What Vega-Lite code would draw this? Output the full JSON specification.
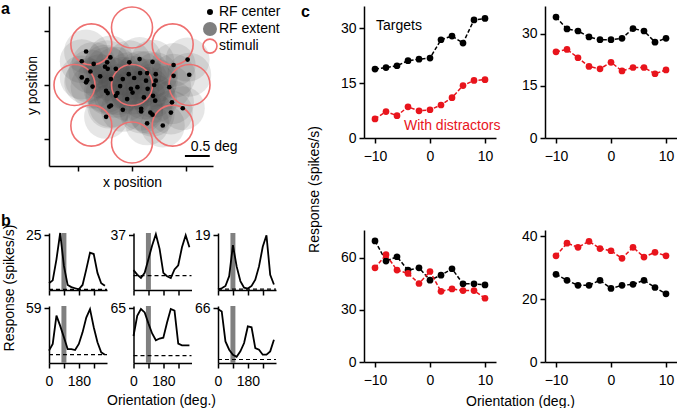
{
"$schema":"https://vega.github.io/schema/vega-lite/v6.json",
"padding":{"left":0,"top":0,"right":0,"bottom":0},
"background":"white",
"config":{"font":"Liberation Sans","view":{"stroke":null},
 "axis":{"grid":false,"domainColor":"#000","tickColor":"#000","labelColor":"#000","titleColor":"#000","domainWidth":1.5,"tickWidth":1.5,"tickSize":5,"labelFontSize":14,"titleFontSize":14,"titleFontWeight":"normal","labelFont":"Liberation Sans","titleFont":"Liberation Sans","labelFlush":false,"labelOverlap":false},
 "axisX":{"labelPadding":6},"axisY":{"labelPadding":3},
 "text":{"font":"Liberation Sans","fontSize":14}},
"datasets":{
"rf":[{"x":0.65,"y":2.12},{"x":0.57,"y":1.94},{"x":0.79,"y":1.89},{"x":1.04,"y":1.92},{"x":1.10,"y":2.01},{"x":1.00,"y":1.84},{"x":0.91,"y":1.66},{"x":0.73,"y":1.75},{"x":0.57,"y":1.64},{"x":0.67,"y":1.59},{"x":0.65,"y":1.55},{"x":0.77,"y":1.47},{"x":1.11,"y":1.61},{"x":1.05,"y":1.80},{"x":1.20,"y":1.80},{"x":1.33,"y":1.61},{"x":1.45,"y":1.92},{"x":1.64,"y":1.98},{"x":1.88,"y":1.93},{"x":1.65,"y":1.72},{"x":1.78,"y":1.72},{"x":1.94,"y":1.70},{"x":1.44,"y":1.70},{"x":1.54,"y":1.63},{"x":1.76,"y":1.58},{"x":1.28,"y":1.48},{"x":1.23,"y":1.35},{"x":1.20,"y":1.30},{"x":1.02,"y":1.39},{"x":1.05,"y":1.35},{"x":1.41,"y":1.24},{"x":1.48,"y":1.43},{"x":1.51,"y":1.36},{"x":1.60,"y":1.46},{"x":1.79,"y":1.43},{"x":2.27,"y":1.87},{"x":2.27,"y":1.67},{"x":2.53,"y":1.97},{"x":2.56,"y":1.69},{"x":1.94,"y":1.58},{"x":1.89,"y":1.30},{"x":1.93,"y":1.21},{"x":2.19,"y":1.46},{"x":2.24,"y":1.18},{"x":2.44,"y":1.07},{"x":2.22,"y":0.99},{"x":1.67,"y":1.06},{"x":1.67,"y":1.01},{"x":1.84,"y":0.99},{"x":1.88,"y":0.95},{"x":1.78,"y":0.79},{"x":2.07,"y":0.75},{"x":1.33,"y":1.04},{"x":1.11,"y":1.12},{"x":1.08,"y":1.10},{"x":1.02,"y":0.91},{"x":1.91,"y":1.50},{"x":1.72,"y":1.27}],
"stim":[{"x":1.5,"y":1.5},{"x":1.5,"y":2.565},{"x":2.253,"y":2.253},{"x":2.565,"y":1.5},{"x":2.253,"y":0.747},{"x":1.5,"y":0.435},{"x":0.747,"y":0.747},{"x":0.435,"y":1.5},{"x":0.747,"y":2.253}],
"aleg":[{"kind":"center","x":2.944,"y":2.85,"label":"RF center"},{"kind":"extent","x":2.944,"y":2.537,"label":"RF extent"},{"kind":"stimuli","x":2.944,"y":2.22,"label":"stimuli"}],
"abar":[{"x":2.48,"x2":2.94,"y":0.185}],
"abartext":[{"x":2.59,"y":0.278,"label":"0.5 deg"}],
"panlab":[{"panel":"a","x":-0.926,"y":2.815},{"panel":"b","ori":-289.7,"rate":29.19},{"panel":"c","ori":-23.45,"rate":33.1}],
"cells":[{"cell":1,"rate":0.3,"ori":75,"ori2":105},{"cell":2,"rate":9.7,"ori":75,"ori2":105},{"cell":3,"rate":0.3,"ori":75,"ori2":105},{"cell":4,"rate":9,"ori":75,"ori2":105},{"cell":5,"rate":8.7,"ori":75,"ori2":105},{"cell":6,"rate":4.2,"ori":75,"ori2":105}],
"tuning":[
{"cell":1,"ori":0,"rate":3.1},{"cell":1,"ori":22.5,"rate":4.4},{"cell":1,"ori":45,"rate":14},{"cell":1,"ori":67.5,"rate":26},{"cell":1,"ori":90,"rate":11},{"cell":1,"ori":112.5,"rate":2.3},{"cell":1,"ori":135,"rate":1.3},{"cell":1,"ori":157.5,"rate":0.8},{"cell":1,"ori":180,"rate":0.3},{"cell":1,"ori":202.5,"rate":2.3},{"cell":1,"ori":225,"rate":9.4},{"cell":1,"ori":247.5,"rate":17},{"cell":1,"ori":270,"rate":16.4},{"cell":1,"ori":292.5,"rate":7.8},{"cell":1,"ori":315,"rate":3.1},{"cell":1,"ori":337.5,"rate":1.9},
{"cell":2,"ori":0,"rate":13.4},{"cell":2,"ori":22.5,"rate":10.4},{"cell":2,"ori":45,"rate":8.1},{"cell":2,"ori":67.5,"rate":11.6},{"cell":2,"ori":90,"rate":20.8},{"cell":2,"ori":112.5,"rate":30},{"cell":2,"ori":135,"rate":37.7},{"cell":2,"ori":157.5,"rate":27.8},{"cell":2,"ori":180,"rate":11.6},{"cell":2,"ori":202.5,"rate":9.3},{"cell":2,"ori":225,"rate":8.1},{"cell":2,"ori":247.5,"rate":13.9},{"cell":2,"ori":270,"rate":16.7},{"cell":2,"ori":292.5,"rate":28.9},{"cell":2,"ori":315,"rate":37},{"cell":2,"ori":337.5,"rate":28.9},
{"cell":3,"ori":0,"rate":0.2},{"cell":3,"ori":22.5,"rate":0.6},{"cell":3,"ori":45,"rate":1.4},{"cell":3,"ori":67.5,"rate":4.8},{"cell":3,"ori":90,"rate":15.6},{"cell":3,"ori":112.5,"rate":8.2},{"cell":3,"ori":135,"rate":3.1},{"cell":3,"ori":157.5,"rate":0.8},{"cell":3,"ori":180,"rate":0.5},{"cell":3,"ori":202.5,"rate":1.4},{"cell":3,"ori":225,"rate":3.6},{"cell":3,"ori":247.5,"rate":8.2},{"cell":3,"ori":270,"rate":15},{"cell":3,"ori":292.5,"rate":19},{"cell":3,"ori":315,"rate":5.3},{"cell":3,"ori":337.5,"rate":1.9},
{"cell":4,"ori":0,"rate":13.3},{"cell":4,"ori":22.5,"rate":20.5},{"cell":4,"ori":45,"rate":51},{"cell":4,"ori":67.5,"rate":40},{"cell":4,"ori":90,"rate":27.7},{"cell":4,"ori":112.5,"rate":15},{"cell":4,"ori":135,"rate":15},{"cell":4,"ori":157.5,"rate":14},{"cell":4,"ori":180,"rate":20.5},{"cell":4,"ori":202.5,"rate":33},{"cell":4,"ori":225,"rate":49},{"cell":4,"ori":247.5,"rate":58},{"cell":4,"ori":270,"rate":38.5},{"cell":4,"ori":292.5,"rate":22.3},{"cell":4,"ori":315,"rate":11.5},{"cell":4,"ori":337.5,"rate":9},
{"cell":5,"ori":0,"rate":32},{"cell":5,"ori":22.5,"rate":56},{"cell":5,"ori":45,"rate":64},{"cell":5,"ori":67.5,"rate":60},{"cell":5,"ori":90,"rate":47},{"cell":5,"ori":112.5,"rate":35},{"cell":5,"ori":135,"rate":27},{"cell":5,"ori":157.5,"rate":29},{"cell":5,"ori":180,"rate":30},{"cell":5,"ori":202.5,"rate":48},{"cell":5,"ori":225,"rate":64},{"cell":5,"ori":247.5,"rate":62},{"cell":5,"ori":270,"rate":23},{"cell":5,"ori":292.5,"rate":21},{"cell":5,"ori":315,"rate":21},{"cell":5,"ori":337.5,"rate":21},
{"cell":6,"ori":0,"rate":65},{"cell":6,"ori":22.5,"rate":62},{"cell":6,"ori":45,"rate":26},{"cell":6,"ori":67.5,"rate":16},{"cell":6,"ori":90,"rate":10},{"cell":6,"ori":112.5,"rate":7.5},{"cell":6,"ori":135,"rate":14},{"cell":6,"ori":157.5,"rate":24},{"cell":6,"ori":180,"rate":44},{"cell":6,"ori":202.5,"rate":43},{"cell":6,"ori":225,"rate":18},{"cell":6,"ori":247.5,"rate":16},{"cell":6,"ori":270,"rate":10},{"cell":6,"ori":292.5,"rate":10},{"cell":6,"ori":315,"rate":14},{"cell":6,"ori":337.5,"rate":28}],
"resp":[
{"panel":1,"cond":"Targets","ori":-10,"rate":18.8},{"panel":1,"cond":"Targets","ori":-8,"rate":19.2},{"panel":1,"cond":"Targets","ori":-6,"rate":19.7},{"panel":1,"cond":"Targets","ori":-4,"rate":21.1},{"panel":1,"cond":"Targets","ori":-2,"rate":21.5},{"panel":1,"cond":"Targets","ori":0,"rate":21.8},{"panel":1,"cond":"Targets","ori":2,"rate":26.8},{"panel":1,"cond":"Targets","ori":4,"rate":27.8},{"panel":1,"cond":"Targets","ori":6,"rate":25.9},{"panel":1,"cond":"Targets","ori":8,"rate":32.2},{"panel":1,"cond":"Targets","ori":10,"rate":32.6},
{"panel":1,"cond":"With distractors","ori":-10,"rate":5.2},{"panel":1,"cond":"With distractors","ori":-8,"rate":7.2},{"panel":1,"cond":"With distractors","ori":-6,"rate":6.1},{"panel":1,"cond":"With distractors","ori":-4,"rate":8.5},{"panel":1,"cond":"With distractors","ori":-2,"rate":7.4},{"panel":1,"cond":"With distractors","ori":0,"rate":7.7},{"panel":1,"cond":"With distractors","ori":2,"rate":9.0},{"panel":1,"cond":"With distractors","ori":4,"rate":11.0},{"panel":1,"cond":"With distractors","ori":6,"rate":14.3},{"panel":1,"cond":"With distractors","ori":8,"rate":15.7},{"panel":1,"cond":"With distractors","ori":10,"rate":15.9},
{"panel":2,"cond":"Targets","ori":-10,"rate":34.8},{"panel":2,"cond":"Targets","ori":-8,"rate":31.4},{"panel":2,"cond":"Targets","ori":-6,"rate":30.8},{"panel":2,"cond":"Targets","ori":-4,"rate":29.1},{"panel":2,"cond":"Targets","ori":-2,"rate":28.3},{"panel":2,"cond":"Targets","ori":0,"rate":28.3},{"panel":2,"cond":"Targets","ori":2,"rate":28.7},{"panel":2,"cond":"Targets","ori":4,"rate":31.5},{"panel":2,"cond":"Targets","ori":6,"rate":30.8},{"panel":2,"cond":"Targets","ori":8,"rate":27.6},{"panel":2,"cond":"Targets","ori":10,"rate":28.7},
{"panel":2,"cond":"With distractors","ori":-10,"rate":24.8},{"panel":2,"cond":"With distractors","ori":-8,"rate":25.5},{"panel":2,"cond":"With distractors","ori":-6,"rate":23.1},{"panel":2,"cond":"With distractors","ori":-4,"rate":20.6},{"panel":2,"cond":"With distractors","ori":-2,"rate":19.9},{"panel":2,"cond":"With distractors","ori":0,"rate":21.8},{"panel":2,"cond":"With distractors","ori":2,"rate":19.3},{"panel":2,"cond":"With distractors","ori":4,"rate":20.3},{"panel":2,"cond":"With distractors","ori":6,"rate":20.3},{"panel":2,"cond":"With distractors","ori":8,"rate":18.5},{"panel":2,"cond":"With distractors","ori":10,"rate":19.6},
{"panel":3,"cond":"Targets","ori":-10,"rate":69.7},{"panel":3,"cond":"Targets","ori":-8,"rate":58.1},{"panel":3,"cond":"Targets","ori":-6,"rate":60.6},{"panel":3,"cond":"Targets","ori":-4,"rate":52.9},{"panel":3,"cond":"Targets","ori":-2,"rate":54.2},{"panel":3,"cond":"Targets","ori":0,"rate":47.1},{"panel":3,"cond":"Targets","ori":2,"rate":50.0},{"panel":3,"cond":"Targets","ori":4,"rate":53.7},{"panel":3,"cond":"Targets","ori":6,"rate":45.0},{"panel":3,"cond":"Targets","ori":8,"rate":45.0},{"panel":3,"cond":"Targets","ori":10,"rate":44.4},
{"panel":3,"cond":"With distractors","ori":-10,"rate":54.2},{"panel":3,"cond":"With distractors","ori":-8,"rate":61.8},{"panel":3,"cond":"With distractors","ori":-6,"rate":52.9},{"panel":3,"cond":"With distractors","ori":-4,"rate":51.0},{"panel":3,"cond":"With distractors","ori":-2,"rate":45.2},{"panel":3,"cond":"With distractors","ori":0,"rate":52.1},{"panel":3,"cond":"With distractors","ori":2,"rate":40.7},{"panel":3,"cond":"With distractors","ori":4,"rate":42.1},{"panel":3,"cond":"With distractors","ori":6,"rate":41.1},{"panel":3,"cond":"With distractors","ori":8,"rate":41.1},{"panel":3,"cond":"With distractors","ori":10,"rate":36.7},
{"panel":4,"cond":"Targets","ori":-10,"rate":27.9},{"panel":4,"cond":"Targets","ori":-8,"rate":26.0},{"panel":4,"cond":"Targets","ori":-6,"rate":24.4},{"panel":4,"cond":"Targets","ori":-4,"rate":24.4},{"panel":4,"cond":"Targets","ori":-2,"rate":26.0},{"panel":4,"cond":"Targets","ori":0,"rate":23.4},{"panel":4,"cond":"Targets","ori":2,"rate":24.4},{"panel":4,"cond":"Targets","ori":4,"rate":24.7},{"panel":4,"cond":"Targets","ori":6,"rate":26.0},{"panel":4,"cond":"Targets","ori":8,"rate":23.7},{"panel":4,"cond":"Targets","ori":10,"rate":21.7},
{"panel":4,"cond":"With distractors","ori":-10,"rate":33.8},{"panel":4,"cond":"With distractors","ori":-8,"rate":37.8},{"panel":4,"cond":"With distractors","ori":-6,"rate":36.5},{"panel":4,"cond":"With distractors","ori":-4,"rate":38.4},{"panel":4,"cond":"With distractors","ori":-2,"rate":36.1},{"panel":4,"cond":"With distractors","ori":0,"rate":35.4},{"panel":4,"cond":"With distractors","ori":2,"rate":33.0},{"panel":4,"cond":"With distractors","ori":4,"rate":36.5},{"panel":4,"cond":"With distractors","ori":6,"rate":33.4},{"panel":4,"cond":"With distractors","ori":8,"rate":34.9},{"panel":4,"cond":"With distractors","ori":10,"rate":33.8}],
"ctext":[{"label":"Targets","ori":-9.82,"rate":30.5,"cond":"Targets"},{"label":"With distractors","ori":-4.73,"rate":3.27,"cond":"With distractors"}]
},
"bounds":"flush",
"spacing":315,
"hconcat":[
{"bounds":"flush","spacing":67,"vconcat":[
 {"width":164,"height":160,
  "encoding":{"x":{"field":"x","type":"quantitative","scale":{"domain":[-0.037,3.0],"nice":false,"zero":false},"axis":{"values":[0.5,1.5,2.5],"labels":false,"title":"x position","titleX":83,"titleY":20,"titleBaseline":"alphabetic","titleAlign":"center"}},
    "y":{"field":"y","type":"quantitative","scale":{"domain":[0,2.963],"nice":false,"zero":false},"axis":{"values":[0.5,1.5,2.5],"labels":false,"title":"y position","titleX":-17,"titleY":79,"titleAngle":270,"titleBaseline":"middle","titleAlign":"center"}}},
  "layer":[
  {"data":{"name":"rf"},"mark":{"type":"circle","size":1936,"color":"#4d4d4d","opacity":0.14}},
  {"data":{"name":"stim"},"mark":{"type":"point","shape":"circle","filled":false,"size":1681,"stroke":"#ee7070","strokeWidth":1.6,"opacity":1}},
  {"data":{"name":"rf"},"mark":{"type":"circle","size":22,"color":"#000","opacity":1}},
  {"data":{"name":"aleg"},"transform":[{"filter":"datum.kind=='center'"}],"mark":{"type":"circle","size":36,"color":"#000","opacity":1}},
  {"data":{"name":"aleg"},"transform":[{"filter":"datum.kind=='extent'"}],"mark":{"type":"circle","size":196,"color":"#7f7f7f","opacity":1}},
  {"data":{"name":"aleg"},"transform":[{"filter":"datum.kind=='stimuli'"}],"mark":{"type":"point","shape":"circle","filled":false,"size":196,"stroke":"#ee7070","strokeWidth":1.6,"opacity":1}},
  {"data":{"name":"aleg"},"mark":{"type":"text","align":"left","baseline":"middle","dx":9,"fontSize":14,"color":"#000"},"encoding":{"text":{"field":"label"}}},
  {"data":{"name":"abar"},"mark":{"type":"rule","color":"#000","strokeWidth":2},"encoding":{"x2":{"field":"x2"}}},
  {"data":{"name":"abartext"},"mark":{"type":"text","align":"left","baseline":"alphabetic","fontSize":14,"color":"#000"},"encoding":{"text":{"field":"label"}}},
  {"data":{"name":"panlab"},"transform":[{"filter":"datum.panel=='a'"}],"mark":{"type":"text","align":"left","baseline":"alphabetic","fontSize":16,"fontWeight":"bold","color":"#000"},"encoding":{"text":{"field":"panel"}}}
 ]},
 {"bounds":"flush","columns":3,"spacing":{"row":16,"column":26.5},"concat":[
  {"width":58,"height":57,
   "encoding":{"x":{"field":"ori","type":"quantitative","scale":{"domain":[0,350],"nice":false,"zero":false},"axis":{"values":[0,90,180,270],"labels":false,"title":null}},
     "y":{"field":"rate","type":"quantitative","scale":{"domain":[0,26],"nice":false,"zero":false},"axis":{"values":[25],"title":"Response (spikes/s)","titleX":-40,"titleY":54.5,"titleAngle":270,"titleBaseline":"middle","titleAlign":"center"}}},
   "layer":[
   {"data":{"name":"cells"},"transform":[{"filter":"datum.cell==1"}],"mark":{"type":"rect","color":"#808080"},"encoding":{"x2":{"field":"ori2"},"y":{"value":0},"y2":{"value":"height"}}},
   {"data":{"name":"cells"},"transform":[{"filter":"datum.cell==1"}],"mark":{"type":"rule","color":"#000","strokeDash":[4,3],"strokeWidth":1.2},"encoding":{"x":{"value":0},"x2":{"value":"width"}}},
   {"data":{"name":"tuning"},"transform":[{"filter":"datum.cell==1"}],"mark":{"type":"line","color":"#000","strokeWidth":1.8}},
   {"data":{"name":"panlab"},"transform":[{"filter":"datum.panel=='b'"}],"mark":{"type":"text","align":"left","baseline":"alphabetic","fontSize":16,"fontWeight":"bold","color":"#000"},"encoding":{"text":{"field":"panel"}}}
  ]},
  {"width":58,"height":57,
   "encoding":{"x":{"field":"ori","type":"quantitative","scale":{"domain":[0,350],"nice":false,"zero":false},"axis":{"values":[0,90,180,270],"labels":false,"title":null}},
     "y":{"field":"rate","type":"quantitative","scale":{"domain":[0,38.5],"nice":false,"zero":false},"axis":{"values":[37],"title":null}}},
   "layer":[
   {"data":{"name":"cells"},"transform":[{"filter":"datum.cell==2"}],"mark":{"type":"rect","color":"#808080"},"encoding":{"x2":{"field":"ori2"},"y":{"value":0},"y2":{"value":"height"}}},
   {"data":{"name":"cells"},"transform":[{"filter":"datum.cell==2"}],"mark":{"type":"rule","color":"#000","strokeDash":[4,3],"strokeWidth":1.2},"encoding":{"x":{"value":0},"x2":{"value":"width"}}},
   {"data":{"name":"tuning"},"transform":[{"filter":"datum.cell==2"}],"mark":{"type":"line","color":"#000","strokeWidth":1.8}}
  ]},
  {"width":58,"height":57,
   "encoding":{"x":{"field":"ori","type":"quantitative","scale":{"domain":[0,350],"nice":false,"zero":false},"axis":{"values":[0,90,180,270],"labels":false,"title":null}},
     "y":{"field":"rate","type":"quantitative","scale":{"domain":[0,19.8],"nice":false,"zero":false},"axis":{"values":[19],"title":null}}},
   "layer":[
   {"data":{"name":"cells"},"transform":[{"filter":"datum.cell==3"}],"mark":{"type":"rect","color":"#808080"},"encoding":{"x2":{"field":"ori2"},"y":{"value":0},"y2":{"value":"height"}}},
   {"data":{"name":"cells"},"transform":[{"filter":"datum.cell==3"}],"mark":{"type":"rule","color":"#000","strokeDash":[4,3],"strokeWidth":1.2},"encoding":{"x":{"value":0},"x2":{"value":"width"}}},
   {"data":{"name":"tuning"},"transform":[{"filter":"datum.cell==3"}],"mark":{"type":"line","color":"#000","strokeWidth":1.8}}
  ]},
  {"width":58,"height":57,
   "encoding":{"x":{"field":"ori","type":"quantitative","scale":{"domain":[0,350],"nice":false,"zero":false},"axis":{"values":[0,90,180,270],"labelExpr":"datum.value==0||datum.value==180?datum.label:''","title":null}},
     "y":{"field":"rate","type":"quantitative","scale":{"domain":[0,61.4],"nice":false,"zero":false},"axis":{"values":[59],"title":null}}},
   "layer":[
   {"data":{"name":"cells"},"transform":[{"filter":"datum.cell==4"}],"mark":{"type":"rect","color":"#808080"},"encoding":{"x2":{"field":"ori2"},"y":{"value":0},"y2":{"value":"height"}}},
   {"data":{"name":"cells"},"transform":[{"filter":"datum.cell==4"}],"mark":{"type":"rule","color":"#000","strokeDash":[4,3],"strokeWidth":1.2},"encoding":{"x":{"value":0},"x2":{"value":"width"}}},
   {"data":{"name":"tuning"},"transform":[{"filter":"datum.cell==4"}],"mark":{"type":"line","color":"#000","strokeWidth":1.8}}
  ]},
  {"width":58,"height":57,
   "encoding":{"x":{"field":"ori","type":"quantitative","scale":{"domain":[0,350],"nice":false,"zero":false},"axis":{"values":[0,90,180,270],"labelExpr":"datum.value==0||datum.value==180?datum.label:''","title":"Orientation (deg.)","titleX":27.5,"titleY":41,"titleBaseline":"alphabetic","titleAlign":"center"}},
     "y":{"field":"rate","type":"quantitative","scale":{"domain":[0,67.6],"nice":false,"zero":false},"axis":{"values":[65],"title":null}}},
   "layer":[
   {"data":{"name":"cells"},"transform":[{"filter":"datum.cell==5"}],"mark":{"type":"rect","color":"#808080"},"encoding":{"x2":{"field":"ori2"},"y":{"value":0},"y2":{"value":"height"}}},
   {"data":{"name":"cells"},"transform":[{"filter":"datum.cell==5"}],"mark":{"type":"rule","color":"#000","strokeDash":[4,3],"strokeWidth":1.2},"encoding":{"x":{"value":0},"x2":{"value":"width"}}},
   {"data":{"name":"tuning"},"transform":[{"filter":"datum.cell==5"}],"mark":{"type":"line","color":"#000","strokeWidth":1.8}}
  ]},
  {"width":58,"height":57,
   "encoding":{"x":{"field":"ori","type":"quantitative","scale":{"domain":[0,350],"nice":false,"zero":false},"axis":{"values":[0,90,180,270],"labelExpr":"datum.value==0||datum.value==180?datum.label:''","title":null}},
     "y":{"field":"rate","type":"quantitative","scale":{"domain":[0,68.6],"nice":false,"zero":false},"axis":{"values":[66],"title":null}}},
   "layer":[
   {"data":{"name":"cells"},"transform":[{"filter":"datum.cell==6"}],"mark":{"type":"rect","color":"#808080"},"encoding":{"x2":{"field":"ori2"},"y":{"value":0},"y2":{"value":"height"}}},
   {"data":{"name":"cells"},"transform":[{"filter":"datum.cell==6"}],"mark":{"type":"rule","color":"#000","strokeDash":[4,3],"strokeWidth":1.2},"encoding":{"x":{"value":0},"x2":{"value":"width"}}},
   {"data":{"name":"tuning"},"transform":[{"filter":"datum.cell==6"}],"mark":{"type":"line","color":"#000","strokeWidth":1.8}}
  ]}
 ]}
]},
{"bounds":"flush","columns":2,"spacing":{"row":92,"column":49},"concat":[
 {"width":132,"height":132,
  "encoding":{"x":{"field":"ori","type":"quantitative","scale":{"domain":[-12,12],"nice":false,"zero":false},"axis":{"values":[-10,0,10],"title":null}},
    "y":{"field":"rate","type":"quantitative","scale":{"domain":[0,36],"nice":false,"zero":false},"axis":{"values":[0,15,30],"title":"Response (spikes/s)","titleX":-50,"titleY":183,"titleAngle":270,"titleBaseline":"middle","titleAlign":"center"}},
    "color":{"field":"cond","type":"nominal","scale":{"domain":["Targets","With distractors"],"range":["#000000","#e8141c"]},"legend":null}},
  "layer":[
  {"data":{"name":"resp"},"transform":[{"filter":"datum.panel==1"}],"mark":{"type":"line","strokeDash":[4,2],"strokeWidth":1.5}},
  {"data":{"name":"resp"},"transform":[{"filter":"datum.panel==1"}],"mark":{"type":"circle","size":45,"opacity":1}},
  {"data":{"name":"ctext"},"mark":{"type":"text","align":"left","baseline":"middle","fontSize":14},"encoding":{"text":{"field":"label"}}},
  {"data":{"name":"panlab"},"transform":[{"filter":"datum.panel=='c'"}],"mark":{"type":"text","align":"left","baseline":"alphabetic","fontSize":16,"fontWeight":"bold"},"encoding":{"text":{"field":"panel"},"color":{"value":"#000"}}}
 ]},
 {"width":132,"height":132,
  "encoding":{"x":{"field":"ori","type":"quantitative","scale":{"domain":[-12,12],"nice":false,"zero":false},"axis":{"values":[-10,0,10],"title":null}},
    "y":{"field":"rate","type":"quantitative","scale":{"domain":[0,38],"nice":false,"zero":false},"axis":{"values":[0,15,30],"title":null}},
    "color":{"field":"cond","type":"nominal","scale":{"domain":["Targets","With distractors"],"range":["#000000","#e8141c"]},"legend":null}},
  "layer":[
  {"data":{"name":"resp"},"transform":[{"filter":"datum.panel==2"}],"mark":{"type":"line","strokeDash":[4,2],"strokeWidth":1.5}},
  {"data":{"name":"resp"},"transform":[{"filter":"datum.panel==2"}],"mark":{"type":"circle","size":45,"opacity":1}}
 ]},
 {"width":132,"height":132,
  "encoding":{"x":{"field":"ori","type":"quantitative","scale":{"domain":[-12,12],"nice":false,"zero":false},"axis":{"values":[-10,0,10],"title":"Orientation (deg.)","titleX":156,"titleY":43,"titleBaseline":"alphabetic","titleAlign":"center"}},
    "y":{"field":"rate","type":"quantitative","scale":{"domain":[0,76],"nice":false,"zero":false},"axis":{"values":[0,30,60],"title":null}},
    "color":{"field":"cond","type":"nominal","scale":{"domain":["Targets","With distractors"],"range":["#000000","#e8141c"]},"legend":null}},
  "layer":[
  {"data":{"name":"resp"},"transform":[{"filter":"datum.panel==3"}],"mark":{"type":"line","strokeDash":[4,2],"strokeWidth":1.5}},
  {"data":{"name":"resp"},"transform":[{"filter":"datum.panel==3"}],"mark":{"type":"circle","size":45,"opacity":1}}
 ]},
 {"width":132,"height":132,
  "encoding":{"x":{"field":"ori","type":"quantitative","scale":{"domain":[-12,12],"nice":false,"zero":false},"axis":{"values":[-10,0,10],"title":null}},
    "y":{"field":"rate","type":"quantitative","scale":{"domain":[0,42],"nice":false,"zero":false},"axis":{"values":[0,20,40],"title":null}},
    "color":{"field":"cond","type":"nominal","scale":{"domain":["Targets","With distractors"],"range":["#000000","#e8141c"]},"legend":null}},
  "layer":[
  {"data":{"name":"resp"},"transform":[{"filter":"datum.panel==4"}],"mark":{"type":"line","strokeDash":[4,2],"strokeWidth":1.5}},
  {"data":{"name":"resp"},"transform":[{"filter":"datum.panel==4"}],"mark":{"type":"circle","size":45,"opacity":1}}
 ]}
]}
]
}
